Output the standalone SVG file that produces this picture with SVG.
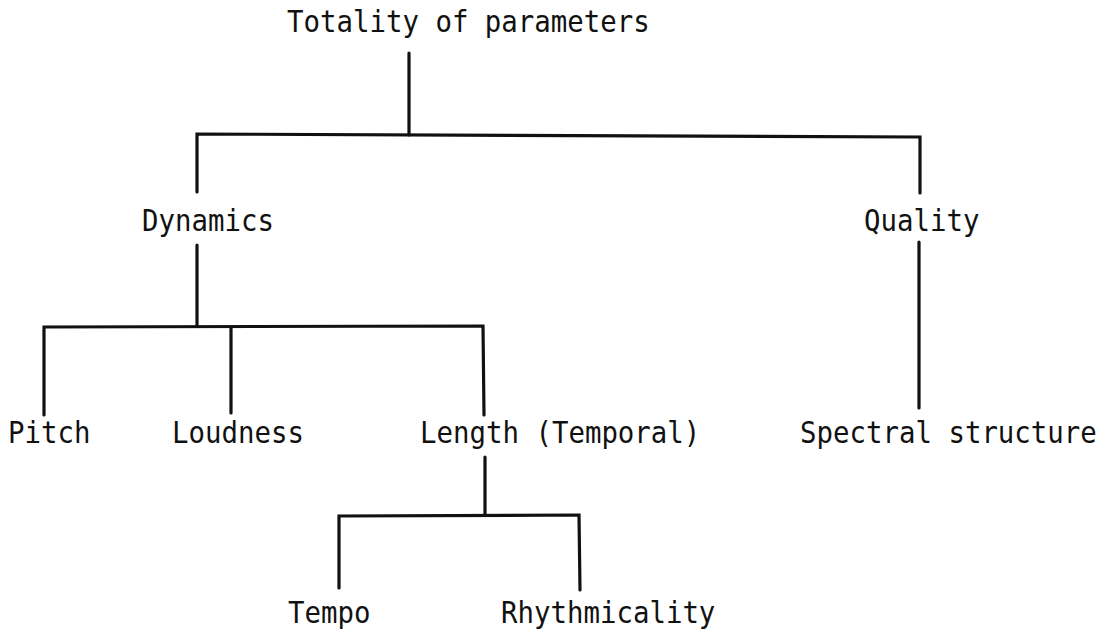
<svg xmlns="http://www.w3.org/2000/svg" width="1102" height="634" viewBox="0 0 1102 634">
  <style>
    .lbl { font-family: "DejaVu Sans Mono", "Liberation Mono", monospace; font-size: 27.4px; fill: #111; }
    .wire { fill: none; stroke: #111; stroke-width: 3.2; stroke-linecap: round; stroke-linejoin: miter; }
  </style>
  <rect width="1102" height="634" fill="#ffffff"/>

  <!-- tree connectors -->
  <g id="connectors">
    <path class="wire" d="M409 53 L409 135"/>
    <path class="wire" d="M197 192 L197 134 L920 137 L920 193"/>
    <path class="wire" d="M919 242 L919 408"/>
    <path class="wire" d="M197 245 L197 326"/>
    <path class="wire" d="M44 415 L44 327 L483 326 L484 415"/>
    <path class="wire" d="M231 327 L231 413"/>
    <path class="wire" d="M485 457 L485 515"/>
    <path class="wire" d="M339 588 L339 516 L579 515 L580 590"/>
  </g>

  <!-- labels: typewriter face, slightly tall letterforms -->
  <g id="totality"><text class="lbl" transform="translate(287 32) scale(1 1.12)">Totality of parameters</text></g>
  <g id="dynamics"><text class="lbl" transform="translate(142 231) scale(1 1.12)">Dynamics</text></g>
  <g id="quality"><text class="lbl" transform="translate(864 231) scale(1 1.12)">Quality</text></g>
  <g id="pitch"><text class="lbl" transform="translate(8 443) scale(1 1.12)">Pitch</text></g>
  <g id="loudness"><text class="lbl" transform="translate(172 443) scale(1 1.12)">Loudness</text></g>
  <g id="length"><text class="lbl" transform="translate(420 443) scale(1 1.12)">Length (Temporal)</text></g>
  <g id="spectral"><text class="lbl" transform="translate(800 443) scale(1 1.12)">Spectral structure</text></g>
  <g id="tempo"><text class="lbl" transform="translate(288 623) scale(1 1.12)">Tempo</text></g>
  <g id="rhythmicality"><text class="lbl" transform="translate(501 623) scale(1 1.12)">Rhythmicality</text></g>
</svg>
